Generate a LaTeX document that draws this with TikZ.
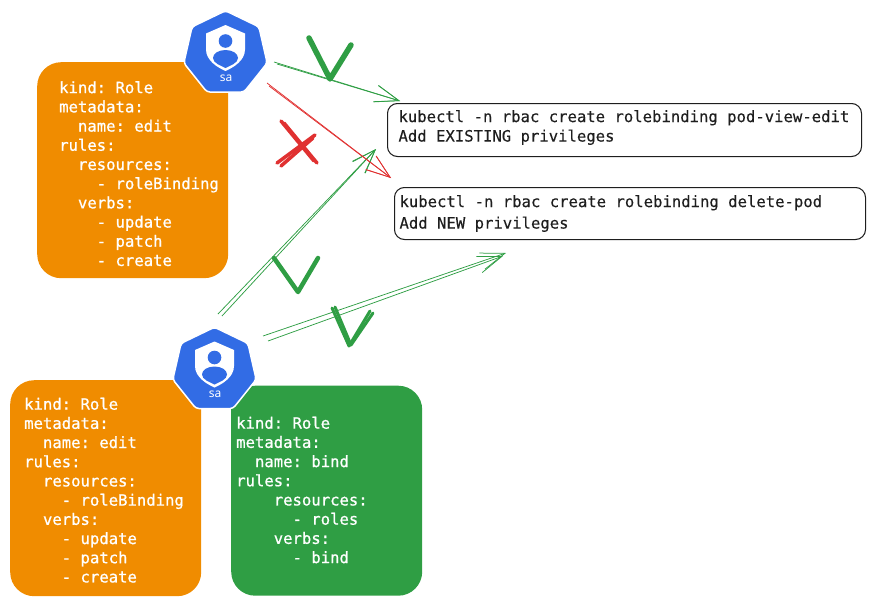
\documentclass[tikz,border=0pt]{standalone}
\usepackage{fontspec}
\setmainfont{Noto Sans}
\setmonofont{DejaVu Sans Mono}
\newfontfamily\yamlfont[FakeBold=0.8]{DejaVu Sans Mono}
\newfontfamily\cmdfont[FakeBold=0.2]{DejaVu Sans Mono}
\usetikzlibrary{positioning,arrows.meta,shapes.geometric}
\definecolor{roleorange}{HTML}{F08C00}
\definecolor{rolegreen}{HTML}{2F9E44}
\definecolor{markred}{HTML}{E03131}
\definecolor{sablue}{HTML}{326CE5}
\definecolor{inkblack}{HTML}{1E1E1E}
\newcommand{\ind}[1]{\phantom{#1}}

\begin{document}
\begin{tikzpicture}[x=1pt,y=-1pt,>={Straight Barb[length=24pt,width=17pt]},
    sa node/.style={regular polygon,regular polygon sides=7,minimum size=85.5pt,inner sep=0pt,fill=sablue,draw=white,line width=1.5pt,rounded corners=3pt},
    sa text/.style={inner sep=0pt,text=white,font=\fontsize{12}{14}\selectfont},
    shield/.pic={
        \fill[white] (0,-29.5) -- (19.5,-21) -- (19.5,-5) .. controls (19.5,6) and (8,13) .. (0,16.5) .. controls (-8,13) and (-19.5,6) .. (-19.5,-5) -- (-19.5,-21) -- cycle;
        \fill[sablue] (0,-13.5) circle (6.8pt);
        \fill[sablue] (0,-4.5) .. controls (7,-4.5) and (12.5,-1) .. (12.5,3.5) .. controls (12.5,8.5) and (5,11) .. (0,13.5) .. controls (-5,11) and (-12.5,8.5) .. (-12.5,3.5) .. controls (-12.5,-1) and (-7,-4.5) .. (0,-4.5) -- cycle;
    },
    card/.style={rounded corners=24pt,inner sep=0pt,anchor=north west,minimum width=#1},
    yaml/.style={inner sep=0pt,align=left,text=white,font=\yamlfont\fontsize{15.6}{19.2}\selectfont\frenchspacing},
    cmd/.style={rounded corners=10pt,draw=inkblack,line width=1pt,fill=white,align=flush left,anchor=north west,text=inkblack,font=\cmdfont\fontsize{15.6}{19.5}\selectfont\frenchspacing,
        preaction={draw=gray,line width=.7pt,xshift=.5pt,yshift=.7pt}},
    arrow ok/.style={->,draw=rolegreen,line width=.75pt},
    arrow bad/.style={->,draw=markred,line width=.75pt},
    tick/.style={draw=rolegreen,line width=#1,line cap=round,line join=round},
    cross/.style={draw=markred,line width=3.5pt,line cap=round}]
    \useasboundingbox (0,0) rectangle (875,605);

    % role cards
    \node[card=191pt,minimum height=216pt,fill=roleorange] (role1) at (37,62) {};
    \node[card=191pt,minimum height=216pt,fill=roleorange] (role2) at (10,380) {};
    \node[card=191pt,minimum height=210pt,fill=rolegreen] (role3) at (231,385.5) {};

    \node[yaml,below right=19pt and 22pt of role1.north west,anchor=north west] (role1text) {kind: Role\\metadata:\\\ind{xx}name: edit\\rules:\\\ind{xx}resources:\\\ind{xxxx}- roleBinding\\\ind{xx}verbs:\\\ind{xxxx}- update\\\ind{xxxx}- patch\\\ind{xxxx}- create};
    \node[yaml,below right=17.5pt and 14pt of role2.north west,anchor=north west] (role2text) {kind: Role\\metadata:\\\ind{xx}name: edit\\rules:\\\ind{xx}resources:\\\ind{xxxx}- roleBinding\\\ind{xx}verbs:\\\ind{xxxx}- update\\\ind{xxxx}- patch\\\ind{xxxx}- create};
    \node[yaml,below right=31pt and 5pt of role3.north west,anchor=north west] (role3text) {kind: Role\\metadata:\\\ind{xx}name: bind\\rules:\\\ind{xxxx}resources:\\\ind{xxxxxx}- roles\\\ind{xxxx}verbs:\\\ind{xxxxxx}- bind};

    % service accounts
    \node[sa node] (sa1) at (225.5,53.5) {};
    \pic at (225.5,54.5) {shield};
    \node[sa text] (sa1text) at (226,78.5) {sa};
    \node[sa node] (sa2) at (214.5,370) {};
    \pic at (214.5,371) {shield};
    \node[sa text] (sa2text) at (215,394.5) {sa};

    % kubectl commands
    \node[cmd,inner xsep=11pt,inner ysep=4pt,text width=452pt,minimum height=53pt] (cmd1) at (387,103) {kubectl -n rbac create rolebinding pod-view-edit\\Add EXISTING privileges\par\vspace{5pt}};
    \node[cmd,inner xsep=5pt,inner ysep=4pt,text width=461pt,minimum height=52pt] (cmd2) at (394,187) {\vspace*{2pt}kubectl -n rbac create rolebinding delete-pod\\Add NEW privileges};

    % free ends of the arrows
    \coordinate (a1) at (274,62);
    \coordinate (a1b) at (277,64);
    \coordinate (b1) at (400,101);
    \coordinate (a2) at (267,83);
    \coordinate (a2b) at (269,86);
    \coordinate (b2) at (391,178);
    \coordinate (a3) at (218,314);
    \coordinate (a3b) at (222,316);
    \coordinate (b3) at (376,149);
    \coordinate (a4) at (263,336);
    \coordinate (a4b) at (268,341);
    \coordinate (b4) at (506,253);
    \coordinate (b4b) at (503,256);

    \path
        (a1) edge[arrow ok] (b1)
        (a1b) edge[arrow ok] (b1)
        (a3) edge[arrow ok] (b3)
        (a3b) edge[arrow ok] (b3)
        (a4) edge[arrow ok] (b4)
        (a4b) edge[arrow ok] (b4b)
        (a2) edge[arrow bad] (b2)
        (a2b) edge[arrow bad] (b2)
    ;

    % marks
    \draw[tick=5.5pt] (309,38) -- (330,79) -- (351,45);
    \draw[tick=4.5pt] (274,258) -- (298,292) -- (318,258);
    \draw[tick=3pt] (332,308) -- (349,346) -- (370,311);
    \draw[tick=3pt] (335,307) -- (351,345) -- (373,313);
    \draw[cross] (284,123) -- (317,163);
    \draw[cross] (281,121) -- (314,161);
    \draw[cross] (277,163) -- (315,135);
    \draw[cross] (281,166) -- (313,138);
\end{tikzpicture}
\end{document}
